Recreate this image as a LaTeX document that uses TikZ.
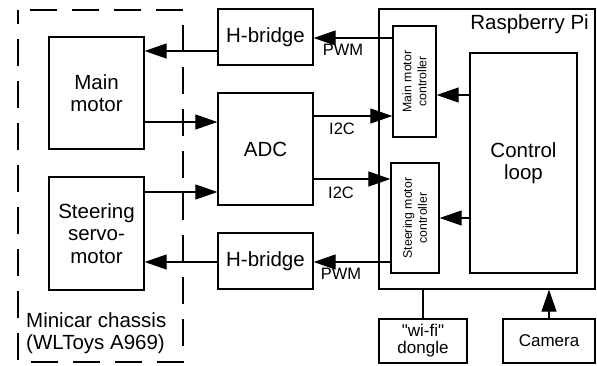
\documentclass[tikz,border=0pt]{standalone}
\usepackage{fontspec}
\setmainfont{Liberation Sans}
\usetikzlibrary{arrows.meta}
\tikzset{
  box/.style={draw, line width=1.3pt, inner sep=0pt, align=center, font=\fontsize{20.5}{22.5}\selectfont},
  smallbox/.style={draw, line width=1.3pt, inner sep=0pt},
  conn/.style={line width=1.1pt, -{Triangle[length=22pt,width=15pt]}},
  plain/.style={line width=1.1pt},
  lbl/.style={font=\fontsize{16.5}{18}\selectfont, inner sep=0pt},
  rot/.style={rotate=90, align=center, font=\fontsize{12.3}{15}\selectfont, inner sep=0pt},
}
\begin{document}
\begin{tikzpicture}[x=1pt,y=-1pt]
\useasboundingbox (0,0) rectangle (597,365);
% chassis dashed box
\draw[line width=1.3pt, dash pattern=on 27pt off 15pt, dash phase=13pt] (18,10) rectangle (183,362);
\node[anchor=north west, align=left, inner sep=0pt, font=\fontsize{20.5}{22.5}\selectfont] (chassis) at (26,312) {Minicar chassis\\(WLToys A969)};
% chassis blocks
\node[box, minimum width=95pt, minimum height=112pt] (mm) at (96.5,93) {Main\\motor};
\node[box, minimum width=95pt, minimum height=113pt] (st) at (96.5,233.5) {Steering\\servo-\\motor};
% middle
\node[box, minimum width=95pt, minimum height=56pt] (hb1) at (265.5,37) {H-bridge};
\node[box, minimum width=95pt, minimum height=112pt] (adc) at (265.5,149) {ADC};
\node[box, minimum width=95pt, minimum height=56pt] (hb2) at (265.5,261) {H-bridge};
% raspberry pi
\node[smallbox, minimum width=216pt, minimum height=280pt] (rpi) at (487,149) {};
\node[anchor=east, inner sep=0pt, font=\fontsize{20.5}{22.5}\selectfont] (rpilbl) at (589,24) {Raspberry Pi};
\node[smallbox, minimum width=43pt, minimum height=111pt] (mmc) at (414.5,81.5) {};
\node[rot] (mmct) at (mmc.center) {Main motor\\controller};
\node[smallbox, minimum width=48pt, minimum height=110pt] (smc) at (415,218) {};
\node[rot] (smct) at (smc.center) {Steering motor\\controller};
\node[box, minimum width=107pt, minimum height=220pt] (cl) at (523.5,163) {Control\\loop};
% bottom
\node[box, minimum width=88pt, minimum height=44pt, font=\fontsize{17}{17}\selectfont] (wifi) at (423,341) {\textquotedbl wi-fi\textquotedbl\\dongle};
\node[box, minimum width=92pt, minimum height=44pt, font=\fontsize{17}{17}\selectfont] (cam) at (549,341) {Camera};
% connectors
\draw[conn] (mmc.west |- 0,38) -- (hb1.east |- 0,38);
\node[lbl] (pwm1) at (343,50) {PWM};
\draw[conn] (hb1.west |- 0,51) -- (mm.east |- 0,51);
\draw[conn] (mm.east |- 0,122) -- (adc.west |- 0,122);
\draw[conn] (st.east |- 0,192) -- (adc.west |- 0,192);
\draw[conn] (adc.east |- 0,116) -- (mmc.west |- 0,116);
\node[lbl] (i2c1) at (342,129) {I2C};
\draw[conn] (adc.east |- 0,179) -- (smc.west |- 0,179);
\node[lbl] (i2c2) at (341,193) {I2C};
\draw[conn] (smc.west |- 0,262) -- (hb2.east |- 0,262);
\node[lbl] (pwm2) at (341,274) {PWM};
\draw[conn] (hb2.west |- 0,262) -- (st.east |- 0,262);
\draw[conn] (cl.west |- 0,95) -- (mmc.east |- 0,95);
\draw[conn] (cl.west |- 0,218) -- (smc.east |- 0,218);
\draw[plain] (wifi.north) -- (wifi.north |- rpi.south);
\draw[conn] (cam.north) -- (cam.north |- rpi.south);
\end{tikzpicture}
\end{document}
